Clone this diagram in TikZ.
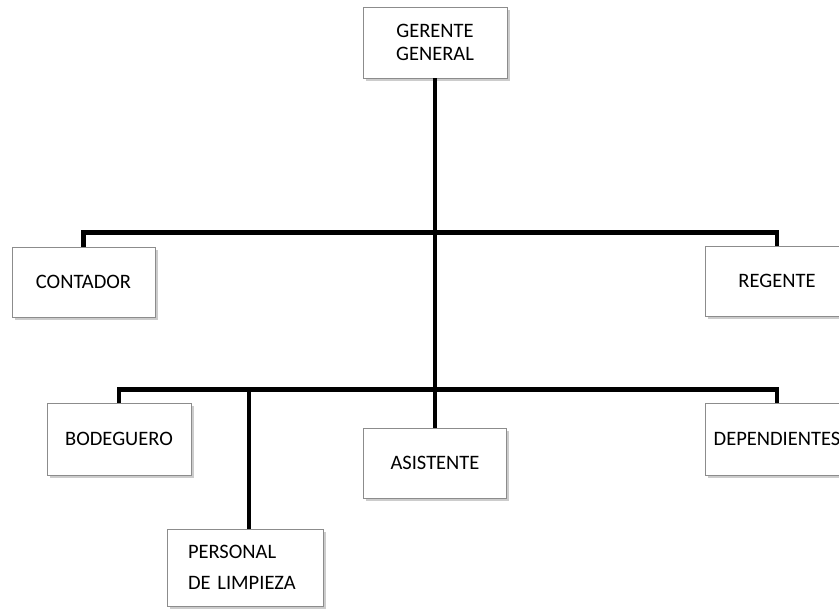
\documentclass[tikz,border=0pt]{standalone}
\usepackage{fontspec}
\setmainfont{Carlito}
\usetikzlibrary{shadows}
\begin{document}
\begin{tikzpicture}[x=1pt,y=-1pt,
    puesto/.style={draw=black!45,line width=0.8pt,fill=white,
        minimum width=143pt,minimum height=70pt,inner sep=0pt,
        font=\fontsize{20.5}{23}\selectfont,align=center,
        drop shadow={shadow xshift=2.5pt,shadow yshift=-3pt,fill=black!40}},
    enlace/.style={line width=4.5pt,line join=miter}]
    \useasboundingbox (0,0) rectangle (839,611);
    \node[puesto,minimum width=144pt,minimum height=71pt] (gerente) at (435,42.5) {GERENTE\\GENERAL};
    \node[puesto] (contador) at (83.5,282) {CONTADOR};
    \node[puesto] (regente) at (777,281) {REGENTE};
    \node[puesto,minimum width=144pt,minimum height=72pt] (bodeguero) at (119,439) {BODEGUERO};
    \node[puesto] (asistente) at (435,463) {ASISTENTE};
    \node[puesto,minimum height=72pt] (dependientes) at (777,439) {DEPENDIENTES};
    \node[puesto,minimum width=156pt,minimum height=77pt,inner xsep=21pt,
        text width=114pt,align=left,font=\fontsize{20.5}{31}\selectfont] (personal) at (245,567.5) {PERSONAL\\DE LIMPIEZA};
    \coordinate (limpieza) at (249,390);
    \draw[enlace] (gerente.south) -- (asistente.north);
    \draw[enlace] (contador.north) -- ++(0,-14) -| (regente.north);
    \draw[enlace] (bodeguero.north) -- ++(0,-13) -| (dependientes.north);
    \draw[enlace] (limpieza) -- (limpieza |- personal.north);
\end{tikzpicture}
\end{document}
